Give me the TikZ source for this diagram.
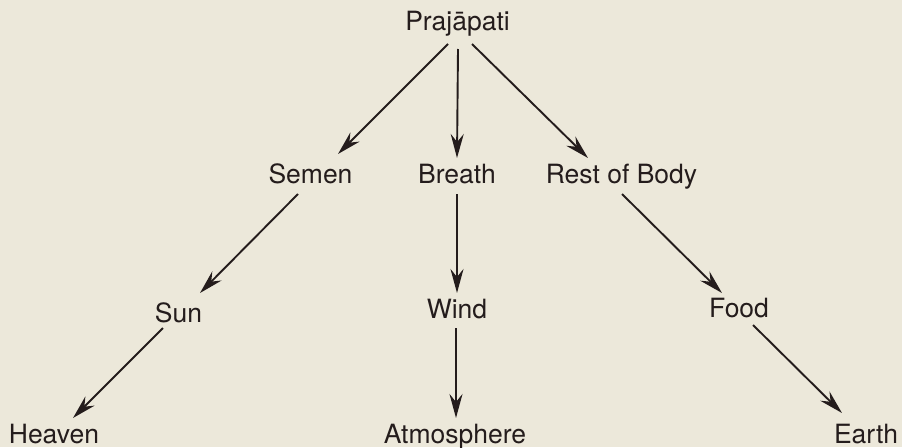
\documentclass[tikz,border=0pt]{standalone}
\usepackage{fontspec}
\setmainfont{TeX Gyre Heros}
\usetikzlibrary{arrows.meta}
\definecolor{paper}{RGB}{236,232,218}
\definecolor{ink}{RGB}{36,28,28}
\begin{document}
\begin{tikzpicture}[x=1pt, y=-1pt,
    term/.style={anchor=base, inner sep=0pt, text=ink,
      font=\fontsize{26.5}{30}\selectfont},
    flow/.style={draw=ink, line width=1.9pt,
      -{Stealth[length=24pt, width=13pt, inset=8pt]}}]
    \fill[paper] (0,0) rectangle (902,447);
    \useasboundingbox (0,0) rectangle (902,447);

    \node[term] (prajapati) at (457.5,30) {Prajāpati};

    \node[term] (semen)  at (310.5,183) {Semen};
    \node[term] (breath) at (457,183)   {Breath};
    \node[term] (rest)   at (621.5,183) {Rest of Body};

    \node[term] (sun)  at (178.5,322) {Sun};
    \node[term] (wind) at (457,318)   {Wind};
    \node[term] (food) at (739,317)   {Food};

    \node[term] (heaven) at (54,443)  {Heaven};
    \node[term] (atmos)  at (455,443) {Atmosphere};
    \node[term] (earth)  at (866,443) {Earth};

    \draw[flow] ([shift={(-9.5,14)}]prajapati.base) -- ([shift={(27.5,-29)}]semen.base);
    \draw[flow] ([shift={(0.5,19)}]prajapati.base)  -- ([shift={(0,-25)}]breath.base);
    \draw[flow] ([shift={(14.5,14)}]prajapati.base) -- ([shift={(-33.5,-25)}]rest.base);

    \draw[flow] ([shift={(-12.5,11)}]semen.base) -- ([shift={(21.5,-29)}]sun.base);
    \draw[flow] ([shift={(0,11)}]breath.base)    -- ([shift={(0,-25)}]wind.base);
    \draw[flow] ([shift={(0.5,11)}]rest.base)    -- ([shift={(-17,-24)}]food.base);

    \draw[flow] ([shift={(-15.5,6)}]sun.base) -- ([shift={(19,-25)}]heaven.base);
    \draw[flow] ([shift={(-1,10)}]wind.base)  -- ([shift={(1,-25)}]atmos.base);
    \draw[flow] ([shift={(14,8)}]food.base)   -- ([shift={(-24,-30)}]earth.base);
\end{tikzpicture}
\end{document}
